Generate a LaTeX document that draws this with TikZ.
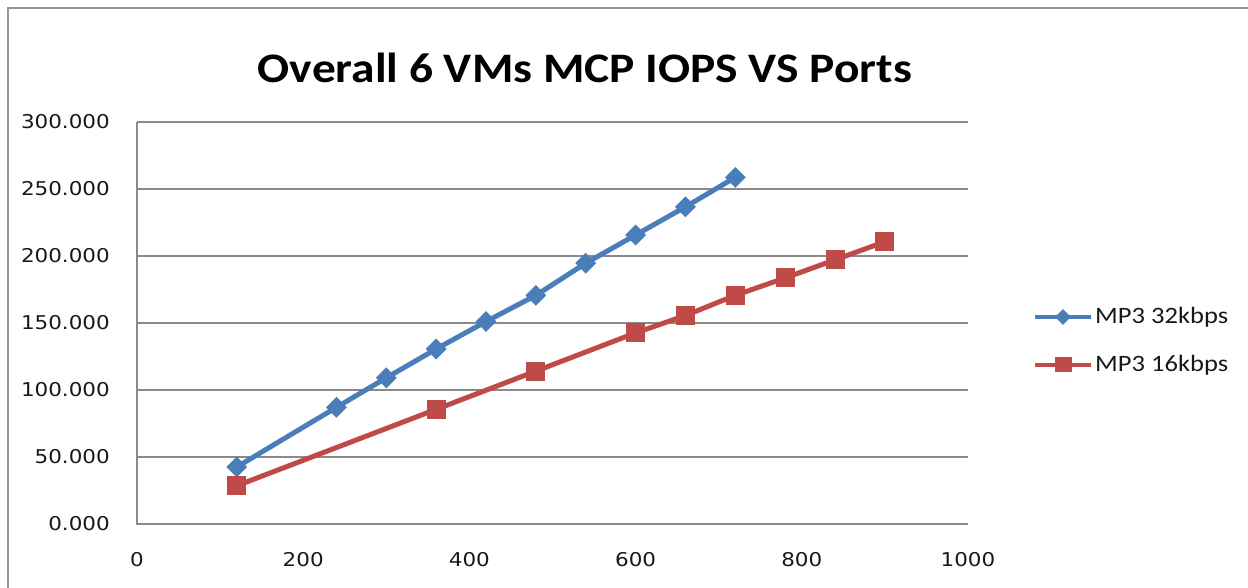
\documentclass[tikz,border=0pt]{standalone}
\usepackage{graphicx}
\usepackage{fontspec}
\setmainfont{Carlito}
\newfontfamily\tickfont{DejaVu Sans}
\usetikzlibrary{shapes.geometric}
\definecolor{sblue}{HTML}{4A7EBB}
\definecolor{sred}{HTML}{BE4B48}
\definecolor{gridgray}{HTML}{8A8A8A}
\newcommand{\hstretch}[1]{\scalebox{1.13}[1]{#1}}
\begin{document}
\begin{tikzpicture}[x=1pt,y=1pt,
  gridline/.style={draw=gridgray, line width=1.8pt},
  frameline/.style={draw=gridgray!90, line width=2pt},
  bline/.style={draw=sblue, line width=5pt, line join=round},
  rline/.style={draw=sred, line width=5pt, line join=round},
  bmark/.style={diamond, fill=sblue, minimum size=21pt, inner sep=0pt},
  rmark/.style={rectangle, fill=sred, minimum size=19pt, inner sep=0pt},
  bmarksmall/.style={diamond, fill=sblue, minimum size=16pt, inner sep=0pt},
  rmarksmall/.style={rectangle, fill=sred, minimum width=17pt, minimum height=15pt, inner sep=0pt},
  ytick/.style={anchor=east, inner sep=0pt, font=\tickfont\fontsize{19}{19}\selectfont, text=black!90},
  xtick/.style={inner sep=0pt, font=\tickfont\fontsize{19}{19}\selectfont, text=black!90},
  legtext/.style={anchor=west, inner sep=0pt, font=\fontsize{23.5}{23.5}\selectfont, text=black!90},
  titletext/.style={font=\fontsize{42}{42}\selectfont\bfseries}
]
\useasboundingbox (0,0) rectangle (1248,587);
% outer chart frame
\coordinate (fbl) at (8,-5);
\coordinate (ftl) at (8,579);
\coordinate (ftr) at (1255,579);
\draw[frameline] (fbl) -- (ftl) -- (ftr);
% title
\node[titletext] (title) at (585,519) {\hstretch{Overall 6 VMs MCP IOPS VS Ports}};
% plot area
\begin{scope}[shift={(137,63)}, x=0.831pt, y=1.341pt]
  \foreach \v in {50,100,...,300} {
    \coordinate (gl\v) at (0,\v);
    \coordinate (gr\v) at (1000,\v);
    \draw[gridline] (gl\v) -- (gr\v);
  }
  \coordinate (ax0) at (0,0);
  \coordinate (axt) at (0,300);
  \coordinate (axr) at (1000,0);
  \draw[gridline] (axt) -- (ax0) -- (axr);
  \foreach \v/\l in {0/0.000,50/50.000,100/100.000,150/150.000,200/200.000,250/250.000,300/300.000}
    \node[ytick] (yl\v) at (0,\v) [xshift=-27pt] {\hstretch{\l}};
  \foreach \v in {0,200,400,600,800,1000}
    \node[xtick] (xl\v) at (\v,0) [yshift=-36pt] {\hstretch{\v}};
  % series MP3 32kbps
  \foreach \i/\x/\y in {1/120/42.5,2/240/87,3/300/109,4/360/130.5,5/420/151,6/480/170.5,7/540/194.5,8/600/215.5,9/660/236.5,10/720/258.5}
    \coordinate (b\i) at (\x,\y);
  \draw[bline] (b1) -- (b2) -- (b3) -- (b4) -- (b5) -- (b6) -- (b7) -- (b8) -- (b9) -- (b10);
  \foreach \i in {1,...,10}
    \node[bmark] (bm\i) at (b\i) {};
  % series MP3 16kbps
  \foreach \i/\x/\y in {1/120/28.5,2/360/85.5,3/480/114,4/600/142.5,5/660/155.5,6/720/170.5,7/780/183.5,8/840/197,9/900/210.5}
    \coordinate (r\i) at (\x,\y);
  \draw[rline] (r1) -- (r2) -- (r3) -- (r4) -- (r5) -- (r6) -- (r7) -- (r8) -- (r9);
  \foreach \i in {1,...,9}
    \node[rmark] (rm\i) at (r\i) {};
\end{scope}
% legend
\coordinate (lb1) at (1035,270);
\coordinate (lb2) at (1091,270);
\draw[draw=sblue, line width=4pt] (lb1) -- (lb2);
\node[bmarksmall] (lbm) at (1063,270) {};
\node[legtext] (lbt) at (1095,270) {\hstretch{MP3 32kbps}};
\coordinate (lr1) at (1035,222);
\coordinate (lr2) at (1091,222);
\draw[draw=sred, line width=4pt] (lr1) -- (lr2);
\node[rmarksmall] (lrm) at (1063,222) {};
\node[legtext] (lrt) at (1095,222) {\hstretch{MP3 16kbps}};
\end{tikzpicture}
\end{document}
